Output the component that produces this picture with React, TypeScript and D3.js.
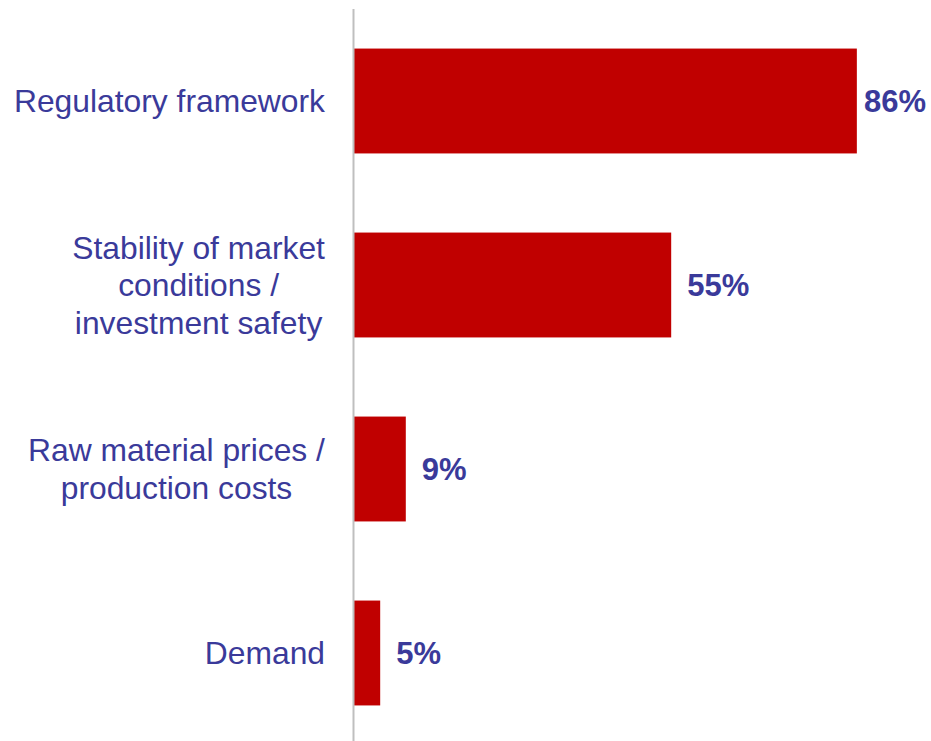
import React, { useEffect, useRef } from "react";
import * as d3 from "d3";

const categories = [
  ["Regulatory framework"],
  ["Stability of market", "conditions /", "investment safety"],
  ["Raw material prices /", "production costs"],
  ["Demand"],
];
// bar lengths as measured on the picture (labels are rounded)
const values = [86.4, 54.5, 8.9, 4.5];
const valueLabels = ["86%", "55%", "9%", "5%"];

const W = 931;
const H = 741;

const App = () => {
  const svgRef = useRef<SVGSVGElement>(null);

  useEffect(() => {
    const svg = d3.select(svgRef.current);
    svg.selectAll("*").remove();

    const keys = categories.map((c) => c.join(" "));
    const x = d3.scaleLinear().domain([0, 100]).range([354, 936]);
    const y = d3
      .scaleBand()
      .domain(keys)
      .range([9, 745])
      .paddingInner(0.43)
      .paddingOuter(0.215);

    svg
      .selectAll("rect.bar")
      .data(values)
      .join("rect")
      .attr("class", "bar")
      .attr("x", x(0))
      .attr("y", (d, i) => y(keys[i])!)
      .attr("width", (d) => x(d) - x(0))
      .attr("height", y.bandwidth())
      .attr("fill", "#C00000");

    // axis line
    svg
      .append("line")
      .attr("x1", x(0) - 0.5)
      .attr("x2", x(0) - 0.5)
      .attr("y1", 9)
      .attr("y2", H)
      .attr("stroke", "#BFBFBF")
      .attr("stroke-width", 2);

    const lineH = 37.5;
    const labelRight = 325;
    categories.forEach((lines, i) => {
      const cy = y(keys[i])! + y.bandwidth() / 2;
      const g = svg.append("g");
      const t = g
        .append("text")
        .attr("fill", "#3A3A9A")
        .attr("font-family", "Liberation Sans, Arial, sans-serif")
        .attr("font-size", 31.8)
        .attr("text-anchor", "middle");
      lines.forEach((l, j) => {
        t.append("tspan")
          .attr("x", 0)
          .attr("y", cy + (j - (lines.length - 1) / 2) * lineH)
          .attr("dy", "0.35em")
          .text(l);
      });
      const bb = (t.node() as SVGTextElement).getBBox();
      g.attr("transform", `translate(${labelRight - bb.width / 2},0)`);
    });

    svg
      .selectAll("text.val")
      .data(values)
      .join("text")
      .attr("class", "val")
      .attr("fill", "#3A3A9A")
      .attr("font-family", "Liberation Sans, Arial, sans-serif")
      .attr("font-size", 31)
      .attr("font-weight", "bold")
      .attr("y", (d, i) => y(keys[i])! + y.bandwidth() / 2)
      .attr("dy", "0.35em")
      .text((d, i) => valueLabels[i])
      .each(function (d) {
        const el = this as SVGTextElement;
        const w = el.getComputedTextLength();
        const px = Math.min(x(d) + 16, W - 5 - w);
        el.setAttribute("x", String(px));
      });
  }, []);

  return (
    <svg
      ref={svgRef}
      width={W}
      height={H}
      style={{ position: "absolute", left: 0, top: 0, background: "#fff" }}
    />
  );
};

export default App;
